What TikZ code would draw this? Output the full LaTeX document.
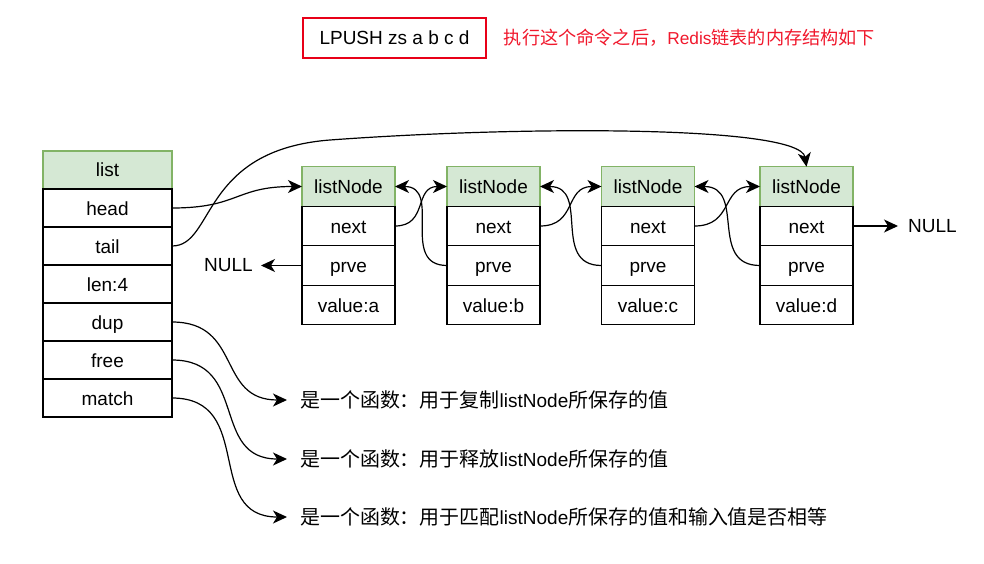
\documentclass[tikz,border=0pt]{standalone}
\usepackage{fontspec}
\setmainfont{Liberation Sans}
\newfontfamily\cjk[Scale=1.05]{Noto Sans CJK SC}
\usetikzlibrary{arrows.meta, positioning}
\definecolor{headgreen}{RGB}{213,232,212}
\definecolor{headline}{RGB}{130,179,102}
\definecolor{cmdred}{RGB}{232,0,24}
\definecolor{notered}{RGB}{240,24,44}
\newcommand\cellfont{\fontsize{19}{22}\selectfont}
\newcommand\notefont{\fontsize{17.3}{21}\selectfont}
\tikzset{
  cell/.style={draw, line width=1.2pt, minimum width=129pt, minimum height=38pt,
    inner sep=0pt, outer sep=0pt, text height=17pt, text depth=3pt, font=\cellfont},
  hcell/.style={cell, fill=headgreen, draw=headline},
  ncell/.style={cell, minimum width=93pt, minimum height=39.5pt},
  nhead/.style={ncell, fill=headgreen, draw=headline},
  link/.style={-{Stealth[length=14pt, width=13pt, inset=4pt]}, line width=1.2pt},
  fn/.style={anchor=west, inner xsep=13pt, inner ysep=0pt, font=\cellfont},
}

\begin{document}
\begin{tikzpicture}[x=1pt, y=-1pt, node distance=0pt]
  \useasboundingbox (0,0) rectangle (984,564);

  % command and note
  \node[draw=cmdred, line width=1.3pt, minimum width=183pt, minimum height=40pt,
    font=\cellfont] (cmd) at (394.5,38) {LPUSH zs a b c d};
  \node[right=17pt of cmd, inner sep=0pt, text=notered, font=\notefont] (note)
    {{\cjk 执行这个命令之后，}Redis{\cjk 链表的内存结构如下}};

  % list struct
  \node[hcell] (list) at (107.5,170) {list};
  \node[cell, below=of list] (head) {head};
  \node[cell, below=of head] (tail) {tail};
  \node[cell, below=of tail] (len) {len:4};
  \node[cell, below=of len] (dup) {dup};
  \node[cell, below=of dup] (free) {free};
  \node[cell, below=of free] (match) {match};

  % list nodes
  \foreach \n/\x in {a/348.5, b/493.5, c/648, d/806.5} {
    \node[nhead] (\n-hd) at (\x,186.5) {listNode};
    \node[ncell, below=of \n-hd] (\n-next) {next};
    \node[ncell, below=of \n-next] (\n-prve) {prve};
    \node[ncell, below=of \n-prve] (\n-val) {value:\n};
  }

  \node[left=41pt of a-prve, font=\cellfont, inner xsep=8pt] (nulll) {NULL};
  \node[right=45pt of d-next, font=\cellfont, inner xsep=10pt] (nullr) {NULL};

  % function texts
  \node[fn] (fdup) at (287,400) {{\cjk 是一个函数：用于复制}listNode{\cjk 所保存的值}};
  \node[fn] (ffree) at (287,459) {{\cjk 是一个函数：用于释放}listNode{\cjk 所保存的值}};
  \node[fn] (fmatch) at (287,517) {{\cjk 是一个函数：用于匹配}listNode{\cjk 所保存的值和输入值是否相等}};

  % pointers
  \draw[link] (head.east) to[out=0, in=180, looseness=1.3] (a-hd.west);
  \draw[link] (tail.east) .. controls (215,246) and (200,150) .. (330,140)
    .. controls (520,126) and (800,125) .. (d-hd.north);
  \draw[link] (a-next.east) to[out=0, in=180, looseness=1.3] (b-hd.west);
  \draw[link] (b-next.east) to[out=0, in=180, looseness=1.3] (c-hd.west);
  \draw[link] (c-next.east) to[out=0, in=180, looseness=1.3] (d-hd.west);
  \draw[link] (b-prve.west) to[out=180, in=0, looseness=1.3] (a-hd.east);
  \draw[link] (c-prve.west) to[out=180, in=0, looseness=1.3] (b-hd.east);
  \draw[link] (d-prve.west) to[out=180, in=0, looseness=1.3] (c-hd.east);
  \draw[link] (a-prve.west) -- (nulll);
  \draw[link] (d-next.east) -- (nullr);

  \draw[link] (dup.east) to[out=0, in=180, looseness=1.3] (fdup.west);
  \draw[link] (free.east) to[out=0, in=180, looseness=1.3] (ffree.west);
  \draw[link] (match.east) to[out=0, in=180, looseness=1.3] (fmatch.west);
\end{tikzpicture}
\end{document}
